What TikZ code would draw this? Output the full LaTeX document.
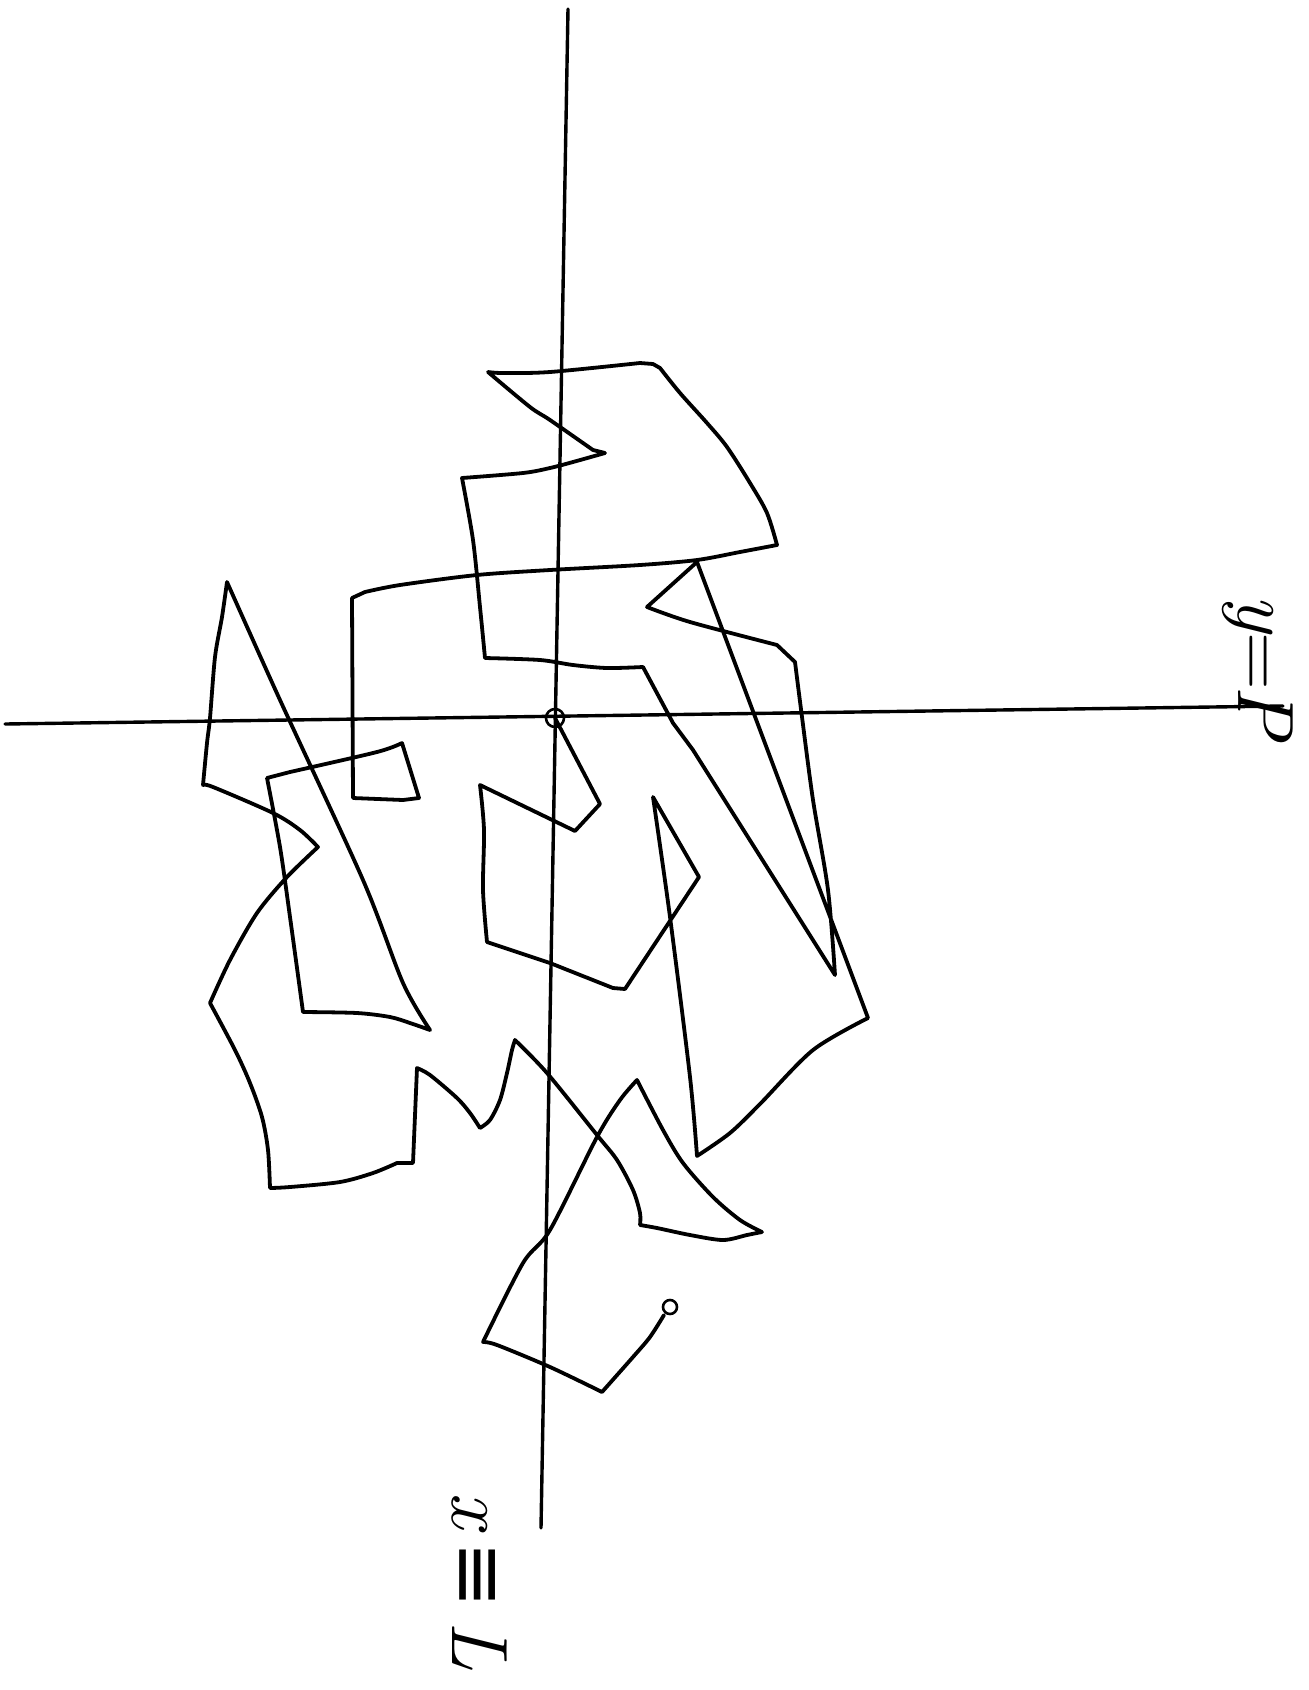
\documentclass[tikz,border=0pt]{standalone}
\usepackage{fontspec}
\newfontfamily\symfam{DejaVu Sans}
\begin{document}
\begin{tikzpicture}[x=1pt,y=-1pt,line cap=round,line join=round,
  walk/.style={line width=3.8pt},
  axisline/.style={line width=3.4pt},
  dotmark/.style={line width=2.6pt},
  lab/.style={rotate=-90,inner sep=0pt,font=\fontsize{80}{96}\selectfont\itshape}]
\fill[white] (0,0) rectangle (1309,1690);
\useasboundingbox (0,0) rectangle (1309,1690);
% axes
\coordinate (vt) at (568,9);
\coordinate (vb) at (541,1528);
\coordinate (hl) at (5,724);
\coordinate (hr) at (1283,706);
\draw[axisline] (vt) -- (vb);
\draw[axisline] (hl) -- (hr);
% start and end marks
\coordinate (O) at (555,718);
\coordinate (E) at (670,1307);
\draw[dotmark] (O) circle (9pt);
\draw[dotmark] (E) circle (7pt);
% labels
\node[lab,anchor=base west] (ylab) at (1238,594) {y{\upshape =}\kern-4pt P};
\node[lab,anchor=base west] (xlab) at (452,1492) {x\,{\symfam\upshape ≡}\,L};
% the walk
\draw[walk] (O) -- (600,804) -- (575,831) -- (480,785)
 -- plot[smooth] coordinates {(480,785) (484,830) (483,890) (487,942)}
 -- (550,963) -- (613,988) -- (625,989) -- (699,877) -- (653,797)
 -- plot[smooth] coordinates {(653,797) (670,917) (690,1077) (697,1156)}
 -- plot[smooth] coordinates {(697,1156) (730,1133) (760,1104) (813,1050) (868,1018)}
 -- (697,562) -- (647,607)
 -- plot[smooth] coordinates {(647,607) (690,622) (777,645)}
 -- (795,662)
 -- plot[smooth] coordinates {(795,662) (802,717) (813,800) (828,890) (835,975)}
 -- (693,750) -- (673,723) -- (643,667)
 -- plot[smooth] coordinates {(643,667) (607,668) (573,665) (540,660) (485,658)}
 -- plot[smooth] coordinates {(485,658) (480,607) (473,540) (462,478)}
 -- plot[smooth] coordinates {(462,478) (523,473) (550,468) (573,462) (605,453)}
 -- (593,450)
 -- plot[smooth] coordinates {(593,450) (550,420) (530,407) (488,372)}
 -- plot[smooth] coordinates {(488,372) (503,373) (550,372) (640,363)}
 -- (653,364) -- (660,368)
 -- plot[smooth] coordinates {(660,368) (680,393) (707,423) (727,447) (750,483) (767,513) (777,545)}
 -- plot[smooth] coordinates {(777,545) (740,552) (697,560) (640,565) (550,570) (477,575) (400,585) (365,592)}
 -- (352,598) -- (353,798) -- (403,800) -- (419,798) -- (402,743)
 -- plot[smooth] coordinates {(402,743) (377,752) (290,772)} -- (267,778)
 -- plot[smooth] coordinates {(267,778) (280,847) (290,917) (303,1012)}
 -- plot[smooth] coordinates {(303,1012) (357,1013) (390,1017) (410,1023) (430,1030)}
 -- plot[smooth] coordinates {(430,1030) (403,983) (363,880) (280,700) (227,582)}
 -- plot[smooth] coordinates {(227,582) (222,617) (215,657) (210,718) (207,743) (203,785)}
 -- plot[smooth] coordinates {(203,785) (213,787) (273,813) (300,830) (318,847)}
 -- plot[smooth] coordinates {(318,847) (287,877) (257,913) (230,960) (210,1003)}
 -- plot[smooth] coordinates {(210,1003) (235,1050) (250,1083) (262,1117) (268,1150) (270,1188)}
 -- plot[smooth] coordinates {(270,1188) (290,1187) (340,1182) (373,1173) (397,1163)} -- (413,1163)
 -- (417,1068)
 -- plot[smooth] coordinates {(417,1068) (430,1075) (457,1098) (470,1113) (480,1128)}
 -- plot[smooth] coordinates {(480,1128) (490,1120) (500,1100) (507,1073) (512,1050) (515,1040)}
 -- plot[smooth] coordinates {(515,1040) (547,1073) (597,1135) (617,1160) (633,1190) (640,1213) (640,1225)}
 -- plot[smooth] coordinates {(640,1225) (657,1228) (690,1235) (723,1240) (747,1235) (762,1232)}
 -- plot[smooth] coordinates {(762,1232) (740,1220) (713,1197) (683,1163) (663,1130) (637,1080)}
 -- plot[smooth] coordinates {(637,1080) (620,1100) (597,1137) (550,1230) (523,1263) (483,1342)}
 -- plot[smooth] coordinates {(483,1342) (497,1345) (550,1367) (602,1392)}
 -- plot[smooth] coordinates {(602,1392) (633,1357) (650,1337) (664,1315)};
\end{tikzpicture}
\end{document}
